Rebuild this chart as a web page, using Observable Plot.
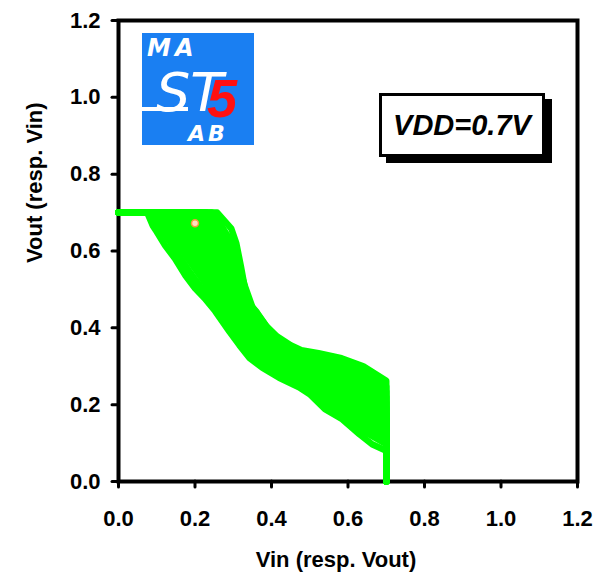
<!DOCTYPE html>
<html>
<head>
<meta charset="utf-8">
<script src="https://cdn.jsdelivr.net/npm/d3@7"></script>
<script src="https://cdn.jsdelivr.net/npm/@observablehq/plot@0.6"></script>
<style>
  html, body { margin: 0; padding: 0; background: #fff; }
  #wrap { position: relative; width: 612px; height: 582px; font-family: "Liberation Sans", Arial, sans-serif; }
  #logo { position: absolute; left: 142px; top: 33px; width: 112px; height: 112px; }
  #vdd {
    position: absolute; left: 379px; top: 93px; width: 160px; height: 58px;
    border: 3px solid #000; background: #fff; box-shadow: 7px 6px 0 #000;
    display: flex; align-items: center; justify-content: center;
    font: italic bold 29px "Liberation Sans", Arial, sans-serif; color: #000;
  }
</style>
</head>
<body>
<div id="wrap">
  <div id="chart"></div>
  <div id="logo">
    <svg width="112" height="112" viewBox="0 0 112 112">
      <rect x="0" y="0" width="112" height="112" fill="#1a7ff2"></rect>
      <text x="5" y="23" font-family="DejaVu Sans, sans-serif" font-style="italic" font-weight="bold" font-size="24" fill="#fff" letter-spacing="4">MA</text>
      <text x="14" y="78" font-family="DejaVu Sans, sans-serif" font-style="italic" font-size="54" fill="#fff">ST</text>
      <rect x="0" y="74" width="46" height="4" fill="#fff"></rect>
      <text x="65" y="84" font-family="Liberation Sans, Arial, sans-serif" font-weight="bold" font-style="italic" font-size="54" fill="#ff1010">5</text>
      <text x="46" y="108" font-family="DejaVu Sans, sans-serif" font-style="italic" font-weight="bold" font-size="22" fill="#fff" letter-spacing="3">AB</text>
    </svg>
  </div>
  <div id="vdd">VDD=0.7V</div>
</div>
<script>
// Axis ticks
const tickValues = [0, 0.2, 0.4, 0.6, 0.8, 1.0, 1.2];
const tickLabels = ["0.0", "0.2", "0.4", "0.6", "0.8", "1.0", "1.2"];
const xTitle = "Vin (resp. Vout)";
const yTitle = "Vout (resp. Vin)";

// Monte Carlo transfer curves [Vin, Vout]
const mc01 = [[0,0.70],[0.075,0.70],[0.09,0.665],[0.10,0.65],[0.122,0.614],[0.148,0.58],[0.175,0.536],[0.20,0.503],[0.225,0.477],[0.253,0.443],[0.29,0.39],[0.316,0.355],[0.343,0.321],[0.376,0.296],[0.42,0.27],[0.472,0.245],[0.50,0.227],[0.54,0.188],[0.585,0.162],[0.63,0.123],[0.663,0.097],[0.70,0.08],[0.70,0]];
const mc02 = [[0,0.70],[0.089,0.70],[0.105,0.668],[0.13,0.63],[0.16,0.585],[0.19,0.54],[0.22,0.50],[0.25,0.462],[0.28,0.415],[0.31,0.372],[0.35,0.327],[0.40,0.291],[0.45,0.264],[0.50,0.236],[0.55,0.193],[0.60,0.163],[0.65,0.126],[0.70,0.097],[0.70,0]];
const mc03 = [[0,0.70],[0.103,0.70],[0.12,0.67],[0.15,0.625],[0.18,0.582],[0.21,0.54],[0.24,0.497],[0.27,0.455],[0.30,0.41],[0.325,0.372],[0.35,0.339],[0.40,0.299],[0.45,0.271],[0.50,0.244],[0.55,0.204],[0.60,0.176],[0.65,0.14],[0.70,0.111],[0.70,0]];
const mc04 = [[0,0.70],[0.117,0.70],[0.135,0.668],[0.16,0.632],[0.19,0.59],[0.22,0.545],[0.25,0.50],[0.28,0.455],[0.31,0.405],[0.33,0.375],[0.35,0.35],[0.40,0.308],[0.45,0.279],[0.50,0.253],[0.55,0.216],[0.60,0.188],[0.65,0.155],[0.70,0.124],[0.70,0]];
const mc05 = [[0,0.70],[0.131,0.70],[0.15,0.668],[0.18,0.627],[0.21,0.585],[0.24,0.538],[0.27,0.49],[0.30,0.44],[0.325,0.398],[0.35,0.362],[0.40,0.317],[0.45,0.287],[0.50,0.261],[0.55,0.227],[0.60,0.201],[0.65,0.169],[0.70,0.138],[0.70,0]];
const mc06 = [[0,0.70],[0.145,0.70],[0.163,0.668],[0.19,0.63],[0.22,0.585],[0.25,0.535],[0.28,0.485],[0.31,0.435],[0.33,0.40],[0.35,0.373],[0.40,0.325],[0.45,0.294],[0.50,0.27],[0.55,0.238],[0.60,0.214],[0.65,0.183],[0.70,0.152],[0.70,0]];
const mc07 = [[0,0.70],[0.16,0.70],[0.178,0.67],[0.205,0.63],[0.235,0.58],[0.265,0.53],[0.295,0.475],[0.32,0.43],[0.35,0.385],[0.40,0.334],[0.45,0.302],[0.50,0.278],[0.55,0.249],[0.60,0.227],[0.65,0.197],[0.70,0.166],[0.70,0]];
const mc08 = [[0,0.70],[0.174,0.70],[0.19,0.672],[0.215,0.635],[0.245,0.585],[0.275,0.53],[0.30,0.482],[0.325,0.44],[0.35,0.396],[0.40,0.343],[0.45,0.31],[0.50,0.287],[0.55,0.261],[0.60,0.239],[0.65,0.212],[0.70,0.179],[0.70,0]];
const mc09 = [[0,0.70],[0.188,0.70],[0.205,0.673],[0.23,0.635],[0.255,0.59],[0.28,0.54],[0.305,0.49],[0.33,0.44],[0.35,0.408],[0.40,0.351],[0.45,0.318],[0.50,0.295],[0.55,0.272],[0.60,0.252],[0.65,0.226],[0.70,0.193],[0.70,0]];
const mc10 = [[0,0.70],[0.202,0.70],[0.218,0.675],[0.24,0.64],[0.265,0.595],[0.29,0.545],[0.315,0.49],[0.335,0.45],[0.35,0.419],[0.40,0.36],[0.45,0.325],[0.50,0.304],[0.55,0.283],[0.60,0.265],[0.65,0.24],[0.70,0.207],[0.70,0]];
const mc11 = [[0,0.70],[0.216,0.70],[0.232,0.676],[0.255,0.64],[0.28,0.59],[0.30,0.55],[0.32,0.50],[0.34,0.455],[0.35,0.431],[0.40,0.369],[0.45,0.333],[0.50,0.312],[0.55,0.294],[0.60,0.278],[0.65,0.254],[0.70,0.221],[0.70,0]];
const mc12 = [[0,0.70],[0.23,0.70],[0.248,0.675],[0.27,0.64],[0.29,0.60],[0.31,0.55],[0.33,0.50],[0.35,0.442],[0.40,0.378],[0.45,0.341],[0.50,0.321],[0.55,0.305],[0.60,0.29],[0.65,0.268],[0.70,0.235],[0.70,0]];
const mc13 = [[0,0.70],[0.244,0.70],[0.265,0.672],[0.285,0.64],[0.30,0.605],[0.315,0.56],[0.33,0.51],[0.35,0.454],[0.40,0.386],[0.45,0.348],[0.50,0.329],[0.55,0.317],[0.60,0.303],[0.65,0.283],[0.70,0.248],[0.70,0]];
const mc14 = [[0,0.70],[0.258,0.70],[0.28,0.675],[0.295,0.658],[0.308,0.62],[0.32,0.56],[0.333,0.49],[0.345,0.46],[0.362,0.44],[0.386,0.405],[0.414,0.378],[0.45,0.355],[0.478,0.342],[0.523,0.334],[0.583,0.321],[0.64,0.30],[0.70,0.262],[0.70,0]];

const marker = [[0.20, 0.672]];

const curves = [mc01, mc02, mc03, mc04, mc05, mc06, mc07, mc08, mc09, mc10, mc11, mc12, mc13, mc14];
const data = curves.flatMap((c, i) => c.map(([x, y]) => ({id: i, x, y})));

const fmt = d => tickLabels[tickValues.findIndex(t => Math.abs(t - d) < 1e-9)];

const chart = Plot.plot({
  width: 612,
  height: 582,
  marginLeft: 118,
  marginRight: 35,
  marginTop: 20,
  marginBottom: 101,
  style: {fontFamily: "'Liberation Sans', Arial, sans-serif", fontSize: "22px", fontWeight: "bold", color: "#000", background: "#fff", overflow: "visible"},
  x: {domain: [0, 1.2]},
  y: {domain: [0, 1.2]},
  marks: [
    Plot.axisX({ticks: tickValues, tickFormat: fmt, tickSize: 6, tickPadding: 23, stroke: "#000", strokeWidth: 3, strokeLinecap: "round", label: null}),
    Plot.axisY({ticks: tickValues, tickFormat: fmt, tickSize: 6, tickPadding: 12, stroke: "#000", strokeWidth: 3, strokeLinecap: "round", label: null}),
    Plot.frame({stroke: "#000", strokeWidth: 4}),
    Plot.text([xTitle], {frameAnchor: "bottom", dy: 85, dx: -12, fontSize: 22, fontWeight: "bold", fill: "#000"}),
    Plot.text([yTitle], {frameAnchor: "left", dx: -84, dy: 12, rotate: -90, fontSize: 22, fontWeight: "bold", fill: "#000"}),
    Plot.line(data, {x: "x", y: "y", z: "id", stroke: "#00ff00", strokeWidth: 6.5, strokeLinejoin: "round", strokeLinecap: "round"}),
    Plot.dot(marker, {x: d => d[0], y: d => d[1], r: 3.5, stroke: "#f39a3a", strokeWidth: 1.5, fill: "#ffe0c0"})
  ]
});
document.getElementById("chart").appendChild(chart);
</script>
</body>
</html>
